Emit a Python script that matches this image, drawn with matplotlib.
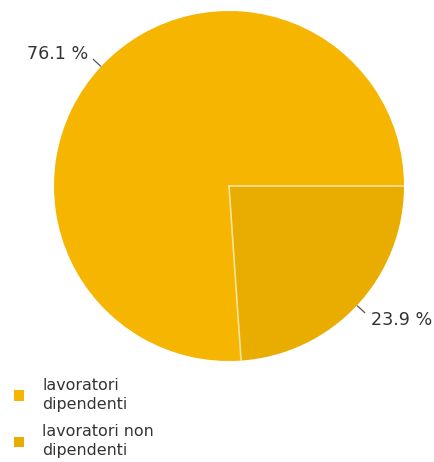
import numpy as np
import matplotlib.pyplot as plt

# Quote di lavoratori
categorie = ['lavoratori\ndipendenti', 'lavoratori non\ndipendenti']
quote = [76.1, 23.9]
colori = ['#F6B500', '#E8AD00']

W, H = 434, 462
fig = plt.figure(figsize=(W / 100, H / 100), dpi=100)

# Asse della torta: centro (229, 186) px, raggio 175 px
cx, cy, r = 229, 186, 175
ax = fig.add_axes([(cx - r) / W, 1 - (cy + r) / H, 2 * r / W, 2 * r / H])
wedges, _ = ax.pie(quote, colors=colori, startangle=0, counterclock=True,
                   radius=1, wedgeprops=dict(linewidth=0))
ax.set_xlim(-1, 1)
ax.set_ylim(-1, 1)
ax.set_aspect('equal')
ax.axis('off')

# Linee di separazione tra le fette
for w in wedges:
    a = np.deg2rad(w.theta1)
    ax.plot([0, np.cos(a)], [0, np.sin(a)], color='#FCE3A0', lw=1.2)

# Etichette percentuali con linea guida
offsets = [(-5, 5), (6, -7)]
for w, q, off in zip(wedges, quote, offsets):
    ang = np.deg2rad((w.theta1 + w.theta2) / 2)
    x0, y0 = np.cos(ang), np.sin(ang)
    x1, y1 = 1.06 * x0, 1.06 * y0
    ax.plot([x0 * 1.005, x1], [y0 * 1.005, y1], color='#555555', lw=0.9, clip_on=False)
    ax.annotate(f'{q:.1f} %', xy=(x1, y1), xytext=off, textcoords='offset pixels',
                ha='right' if x0 < 0 else 'left', va='center',
                fontsize=12.6, color='#333333', annotation_clip=False)

leg = fig.legend(wedges, categorie, loc='upper left',
                 bbox_to_anchor=(14 / W, 1 - 378 / H), frameon=False,
                 fontsize=11.4, handlelength=0.6, handleheight=0.6,
                 handletextpad=1.2, labelspacing=0.75, borderaxespad=0, borderpad=0)
for t in leg.get_texts():
    t.set_color('#333333')
    t.set_linespacing(1.35)
for h in leg.legend_handles:
    h.set_edgecolor('none')

fig.savefig('out.png', dpi=100)
